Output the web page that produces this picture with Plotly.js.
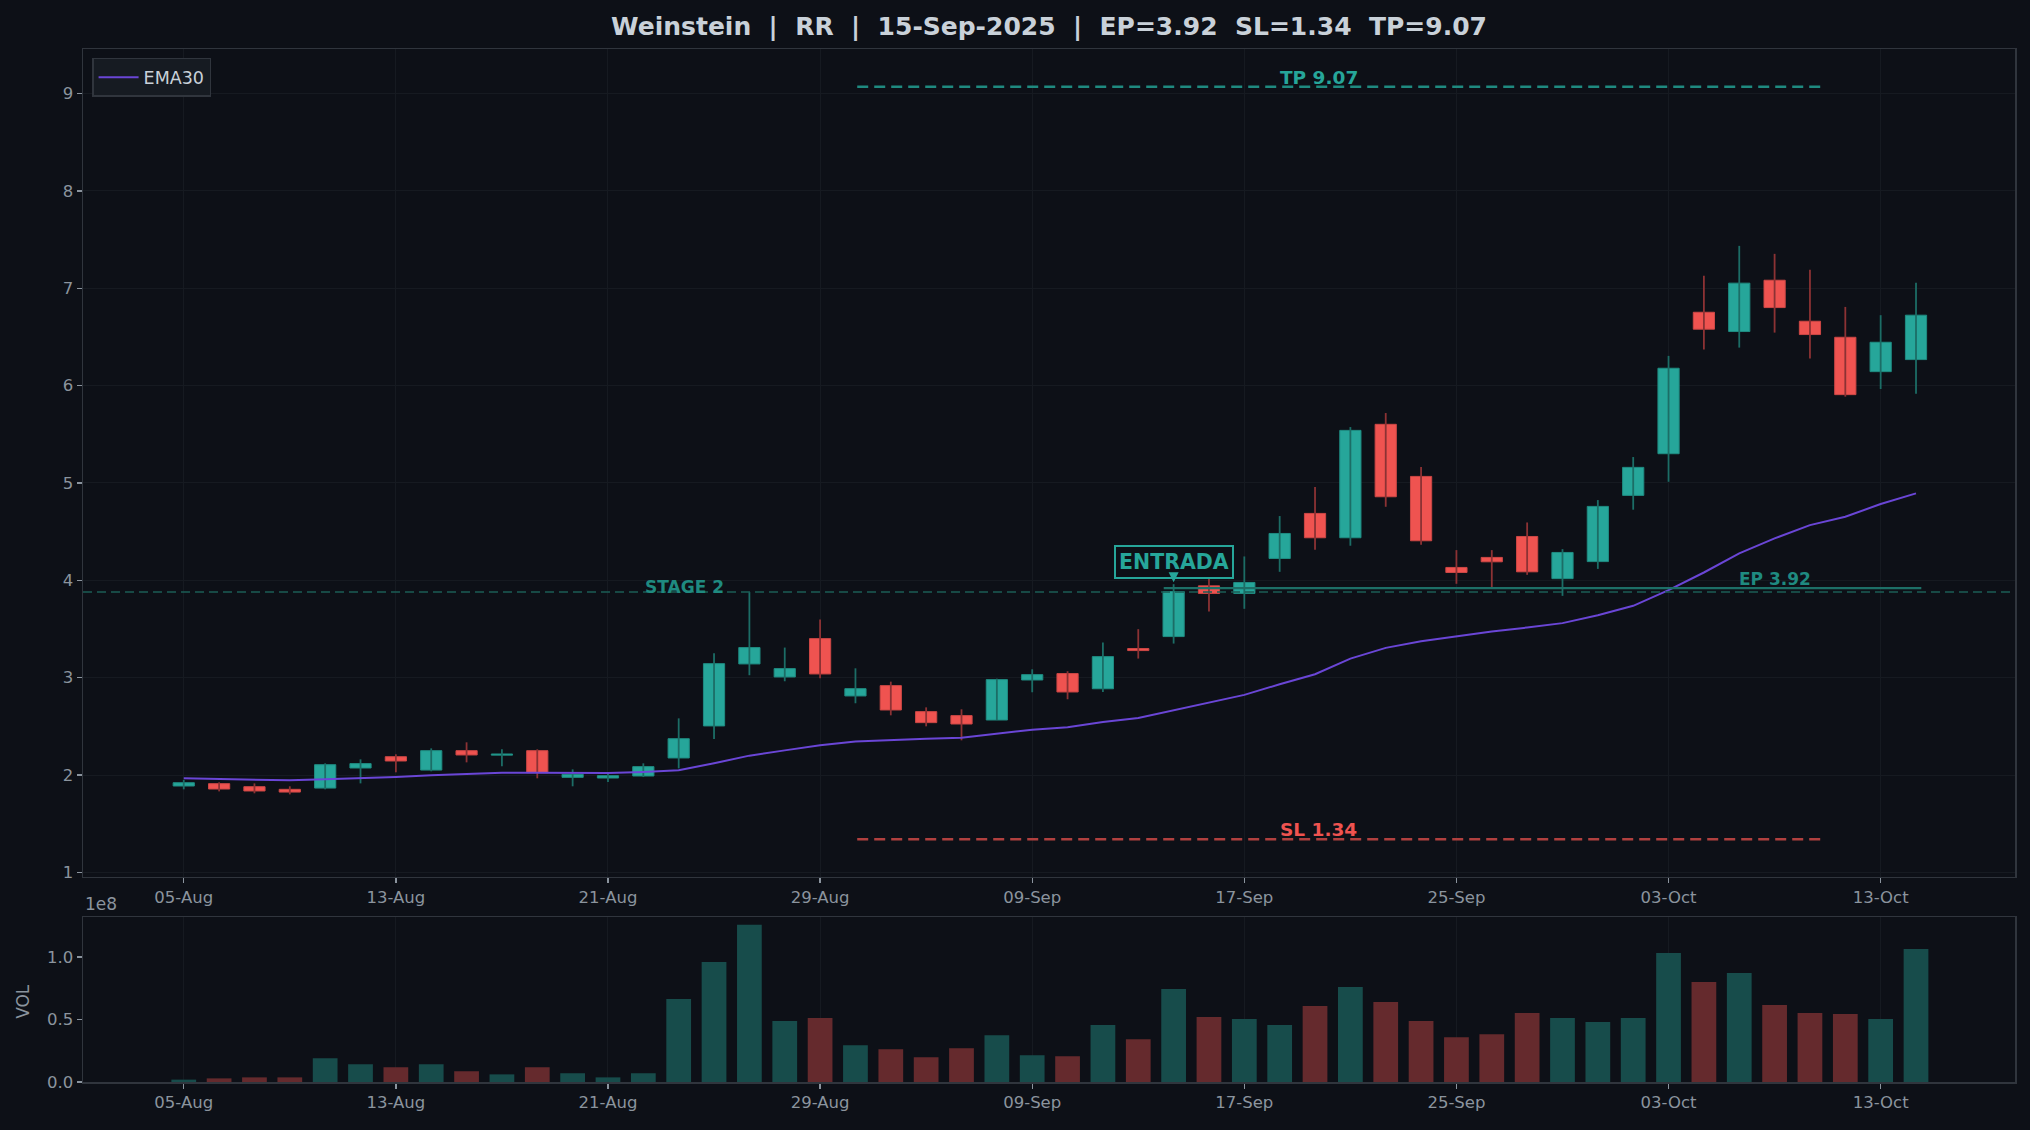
<!DOCTYPE html>
<html>
<head>
<meta charset="utf-8">
<script src="https://cdn.plot.ly/plotly-3.0.1.min.js"></script>
<style>
html,body{margin:0;padding:0;background:#0d1017;}
#chart{width:2030px;height:1130px;}
</style>
</head>
<body>
<div id="chart"></div>
<script>
// ---- data ----
const dates = ["05-Aug","06-Aug","07-Aug","08-Aug","11-Aug","12-Aug","13-Aug","14-Aug","15-Aug","18-Aug",
  "19-Aug","20-Aug","21-Aug","22-Aug","25-Aug","26-Aug","27-Aug","28-Aug","29-Aug","02-Sep",
  "03-Sep","04-Sep","05-Sep","08-Sep","09-Sep","10-Sep","11-Sep","12-Sep","15-Sep","16-Sep",
  "17-Sep","18-Sep","19-Sep","22-Sep","23-Sep","24-Sep","25-Sep","26-Sep","29-Sep","30-Sep",
  "01-Oct","02-Oct","03-Oct","06-Oct","07-Oct","08-Oct","09-Oct","10-Oct","13-Oct","14-Oct"];
const openP  = [1.887,1.911,1.880,1.853,1.866,2.072,2.188,2.051,2.250,2.204,
  2.250,1.976,1.969,1.990,2.175,2.504,3.141,3.007,3.401,2.812,
  2.918,2.651,2.610,2.565,2.976,3.042,2.886,3.299,3.422,3.943,
  3.865,4.224,4.687,4.437,5.602,5.067,4.132,4.235,4.450,4.017,
  4.192,4.872,5.300,6.753,6.555,7.082,6.661,6.496,6.143,6.267];
const highP  = [1.950,1.925,1.914,1.884,2.120,2.161,2.213,2.274,2.336,2.264,
  2.264,2.058,2.013,2.120,2.582,3.251,3.881,3.309,3.597,3.096,
  2.959,2.695,2.675,2.990,3.086,3.066,3.362,3.498,3.960,4.039,
  4.245,4.660,4.958,5.574,5.718,5.163,4.310,4.310,4.594,4.320,
  4.824,5.266,6.305,7.127,7.435,7.353,7.189,6.808,6.723,7.055];
const lowP   = [1.853,1.832,1.812,1.801,1.853,1.914,2.028,2.038,2.130,2.089,
  1.966,1.884,1.928,1.979,2.068,2.370,3.025,2.963,2.994,2.737,
  2.613,2.500,2.356,2.565,2.850,2.778,2.852,3.196,3.350,3.679,
  3.707,4.087,4.313,4.355,4.755,4.365,3.964,3.916,4.056,3.840,
  4.117,4.725,5.012,6.370,6.390,6.544,6.277,5.886,5.965,5.917];
const closeP = [1.921,1.856,1.836,1.825,2.106,2.117,2.144,2.250,2.206,2.210,
  2.024,2.007,1.993,2.086,2.373,3.144,3.309,3.093,3.038,2.887,
  2.668,2.538,2.524,2.980,3.031,2.853,3.216,3.278,3.885,3.865,
  3.978,4.481,4.437,5.540,4.858,4.406,4.080,4.190,4.087,4.286,
  4.759,5.160,6.178,6.579,7.052,6.801,6.524,5.907,6.445,6.723];
const volume = [1900000,2900000,3700000,3700000,19000000,14200000,11800000,14200000,8600000,6100000,
  11800000,7000000,3700000,7000000,66300000,96000000,125700000,48700000,51100000,29400000,
  26200000,19800000,27000000,37400000,21400000,20600000,45500000,34200000,74300000,51900000,
  50300000,45500000,60700000,75900000,63900000,48700000,35800000,38200000,55100000,51100000,
  47900000,51100000,103200000,79900000,87200000,61500000,55100000,54300000,50300000,106400000];
const ema30 = [1.966,1.959,1.952,1.945,1.956,1.966,1.980,1.997,2.010,2.024,
  2.024,2.020,2.020,2.031,2.048,2.120,2.199,2.253,2.305,2.343,
  2.360,2.373,2.384,2.425,2.466,2.490,2.545,2.586,2.665,2.744,
  2.823,2.932,3.035,3.196,3.306,3.374,3.426,3.474,3.515,3.560,
  3.640,3.738,3.899,4.080,4.276,4.430,4.567,4.653,4.783,4.893];
const tickEvery = 6;
const entryIndex = 28;
const EP = 3.92, SL = 1.34, TP = 9.07, STAGE2 = 3.88;
const titleText = "Weinstein \u00a0|\u00a0 RR \u00a0|\u00a0 15-Sep-2025 \u00a0|\u00a0 EP=3.92 \u00a0SL=1.34 \u00a0TP=9.07";

// ---- derived ----
const TEAL = "#26a69a", RED = "#ef5350";
const xs = dates.map((d, i) => i);
const isUp = xs.map(i => closeP[i] >= openP[i]);
const tickvals = xs.filter(i => i % tickEvery === 0);
const ticktext = tickvals.map(i => dates[i]);

function wick(up) {
  const x = [], y = [];
  xs.forEach(i => { if (isUp[i] === up) { x.push(i, i, null); y.push(lowP[i], highP[i], null); } });
  return {x, y, type: "scatter", mode: "lines", hoverinfo: "skip", showlegend: false,
    line: {color: up ? "#1c6d66" : "#8c3234", width: 1.8}, xaxis: "x", yaxis: "y"};
}
const bodyBase = xs.map(i => Math.min(openP[i], closeP[i]));
const bodyH = xs.map(i => Math.max(Math.abs(closeP[i] - openP[i]), 0.012));

const traces = [
  wick(true), wick(false),
  {type: "bar", x: xs, y: bodyH, base: bodyBase, width: 0.6, showlegend: false, hoverinfo: "skip",
    marker: {color: xs.map(i => isUp[i] ? TEAL : RED),
             line: {color: xs.map(i => isUp[i] ? "#1f8c82" : "#cc4745"), width: 1}},
    xaxis: "x", yaxis: "y"},
  {type: "scatter", mode: "lines", x: xs, y: ema30, name: "EMA30",
    line: {color: "#6a46d6", width: 2}, xaxis: "x", yaxis: "y"},
  {type: "bar", x: xs, y: volume, width: 0.7, showlegend: false, hoverinfo: "skip",
    marker: {color: xs.map(i => isUp[i] ? "#174c4b" : "#652a2d")},
    xaxis: "x2", yaxis: "y2"}
];

const axCommon = {
  showline: true, mirror: true, linecolor: "#30353d", linewidth: 1.5,
  ticks: "outside", ticklen: 5, tickwidth: 1.3, tickcolor: "#8b949e",
  tickfont: {family: "DejaVu Sans", size: 16.5, color: "#8b949e"},
  gridcolor: "#161a21", gridwidth: 1, zeroline: false
};

const layout = {
  width: 2030, height: 1130,
  paper_bgcolor: "#0d1017", plot_bgcolor: "#0d1017",
  margin: {l: 83, r: 15, t: 49, b: 48},
  barmode: "overlay",
  font: {family: "DejaVu Sans", color: "#8b949e"},
  title: {text: titleText, xref: "paper", x: 0.5, xanchor: "center",
    yref: "container", y: 1 - 26 / 1130, yanchor: "middle",
    font: {family: "DejaVu Sans", size: 25, color: "#c9d1d9", weight: "bold"}},
  showlegend: true,
  legend: {x: 0.0047, y: 0.9913, xanchor: "left", yanchor: "top",
    bgcolor: "#161b22", bordercolor: "#30353d", borderwidth: 1.5,
    tracegroupgap: 0, itemwidth: 40,
    font: {family: "DejaVu Sans", size: 17.5, color: "#c9d1d9"}},
  xaxis: Object.assign({}, axCommon, {range: [-2.85, 51.8], tickmode: "array", tickvals, ticktext,
    anchor: "y", domain: [0, 1]}),
  yaxis: Object.assign({}, axCommon, {range: [0.953, 9.457], tickmode: "array",
    tickvals: [1,2,3,4,5,6,7,8,9], ticktext: ["1","2","3","4","5","6","7","8","9"],
    domain: [0.1985, 1], anchor: "x"}),
  xaxis2: Object.assign({}, axCommon, {range: [-2.85, 51.8], tickmode: "array", tickvals, ticktext,
    anchor: "y2", matches: "x"}),
  yaxis2: Object.assign({}, axCommon, {range: [0, 131900000], tickmode: "array",
    tickvals: [0, 50000000, 100000000], ticktext: ["0.0", "0.5", "1.0"],
    domain: [0, 0.1597], anchor: "x2", showgrid: false}),
  shapes: [
    {type: "line", xref: "x domain", yref: "y", x0: 0, x1: 1, y0: STAGE2, y1: STAGE2,
      line: {color: "#1b5c56", width: 1.4, dash: "9px,5px"}},
    {type: "line", xref: "x", yref: "y", x0: 19.05, x1: 46.35, y0: TP, y1: TP,
      line: {color: "#1f8a80", width: 2.6, dash: "11px,6px"}},
    {type: "line", xref: "x", yref: "y", x0: 19.05, x1: 46.35, y0: SL, y1: SL,
      line: {color: "#b0403f", width: 2.6, dash: "11px,6px"}},
    {type: "line", xref: "x", yref: "y", x0: 27.72, x1: 49.15, y0: EP, y1: EP,
      line: {color: "#1d6f67", width: 2.4}}
  ],
  annotations: [
    {xref: "x", yref: "y", x: 13, y: STAGE2, text: "<b>STAGE 2</b>", showarrow: false,
      xanchor: "left", yanchor: "bottom", yshift: -7,
      font: {family: "DejaVu Sans", size: 17, color: "#1f8a80"}},
    {xref: "x", yref: "y", x: 32.1, y: TP, text: "<b>TP 9.07</b>", showarrow: false,
      xanchor: "center", yanchor: "bottom", yshift: -3,
      font: {family: "DejaVu Sans", size: 18.5, color: TEAL}},
    {xref: "x", yref: "y", x: 32.1, y: SL, text: "<b>SL 1.34</b>", showarrow: false,
      xanchor: "center", yanchor: "bottom", yshift: -3,
      font: {family: "DejaVu Sans", size: 18.5, color: RED}},
    {xref: "x", yref: "y", x: 45, y: EP, text: "<b>EP 3.92</b>", showarrow: false,
      xanchor: "center", yanchor: "bottom", yshift: -3,
      font: {family: "DejaVu Sans", size: 17, color: "#1f8a80"}},
    {xref: "x", yref: "y", x: entryIndex, y: highP[entryIndex], text: "<b>ENTRADA</b>",
      showarrow: true, ax: 0, ay: -22, arrowhead: 2, arrowsize: 1, arrowwidth: 2, arrowcolor: TEAL,
      standoff: 2, bgcolor: "#0d1017", bordercolor: TEAL, borderwidth: 2, borderpad: 3,
      font: {family: "DejaVu Sans", size: 20.5, color: TEAL}},
    {xref: "paper", yref: "paper", x: 0, y: 0.161, text: "1e8", showarrow: false,
      xanchor: "left", yanchor: "bottom",
      font: {family: "DejaVu Sans", size: 17, color: "#8b949e"}},
    {xref: "paper", yref: "paper", x: -0.031, y: 0.0777, text: "VOL", showarrow: false,
      textangle: -90, xanchor: "center", yanchor: "middle",
      font: {family: "DejaVu Sans", size: 17, color: "#8b949e"}}
  ]
};

Plotly.newPlot("chart", traces, layout, {displayModeBar: false, staticPlot: true});
</script>
</body>
</html>
